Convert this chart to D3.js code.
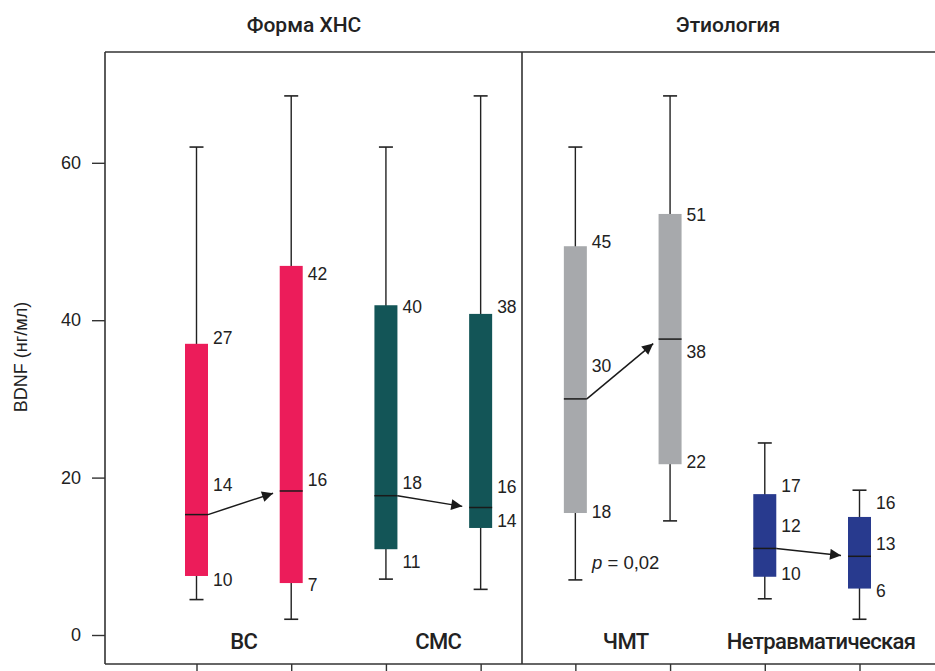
<!DOCTYPE html>
<html><head><meta charset="utf-8">
<script src="https://cdn.jsdelivr.net/npm/d3@7"></script>
<style>body{margin:0;background:#fff}svg{display:block}</style>
</head><body><svg id="c" width="935" height="671"></svg>
<script>
// ---- data ----
const panelTitles = ["Форма ХНС", "Этиология"];
const categories = ["ВС", "СМС", "ЧМТ", "Нетравматическая"];
const boxIds = ["ВС-1","ВС-2","СМС-1","СМС-2","ЧМТ-1","ЧМТ-2","Нетр-1","Нетр-2"];
const boxCategory = [0,0,1,1,2,2,3,3];
const whiskerMax = [62.0, 68.5, 62.0, 68.5, 62.0, 68.5, 24.4, 18.4];
const q3Values   = [37.0, 46.9, 41.9, 40.8, 49.4, 53.5, 17.9, 15.0];
const medians    = [15.3, 18.3, 17.7, 16.2, 30.0, 37.6, 11.0, 10.0];
const q1Values   = [ 7.5,  6.6, 10.9, 13.6, 15.5, 21.7,  7.4,  5.9];
const whiskerMin = [ 4.5,  2.0,  7.1,  5.8,  7.0, 14.5,  4.6,  2.0];
const q3Labels   = ["27","42","40","38","45","51","17","16"];
const medLabels  = ["14","16","18","16","30","38","12","13"];
const q1Labels   = ["10","7","11","14","18","22","10","6"];
const yTicks = [0, 20, 40, 60];
const pText = "= 0,02";
const colors = ["#EC1C5A", "#135557", "#A7A9AC", "#283A8E"];

// ---- layout ----
const svg = d3.select("#c");
const L = 105, T = 52, R = 935, B = 664;
const y = d3.scaleLinear().domain([0, 60]).range([635, 162.8]);
const x = d3.scalePoint().domain(boxIds).range([196.5, 859.5]);
const bw = 23, cw = 14;
const font = "'Liberation Sans', Arial, sans-serif";
// label pixel offsets (layout only)
const q3Off  = [0, 14, 8, -1, 2, 7, -2, -8];
const medOff = [-24, -5, -7, -15, -27, 19, -16, -6];
const q1Off  = [10, 8, 19, -1, 5, 4, 3, 8];
const catDx  = [0, 5, 3, 9];

svg.append("defs").append("marker").attr("id","ah")
  .attr("viewBox","0 0 10 10").attr("refX",10).attr("refY",5)
  .attr("markerWidth",15).attr("markerHeight",11).attr("markerUnits","userSpaceOnUse")
  .attr("orient","auto")
  .append("path").attr("d","M0,0 L10,5 L0,10 Z").attr("fill","#1a1a1a");

// frame
const fr = svg.append("g").attr("stroke","#333").attr("stroke-width",1.6).attr("fill","none");
fr.append("line").attr("x1",L).attr("x2",R).attr("y1",T).attr("y2",T);
fr.append("line").attr("x1",L).attr("x2",R).attr("y1",B).attr("y2",B);
fr.append("line").attr("x1",L).attr("x2",L).attr("y1",T).attr("y2",B);
fr.append("line").attr("x1",522).attr("x2",522).attr("y1",T).attr("y2",B);

// y axis
const ya = svg.append("g").attr("transform",`translate(${L},0)`)
  .call(d3.axisLeft(y).tickValues(yTicks).tickSize(13).tickPadding(11).tickFormat(d3.format("d")));
ya.select(".domain").remove();
ya.selectAll("line").attr("stroke","#333").attr("stroke-width",1.4);
ya.selectAll("text").attr("font-family",font).attr("font-size",18).attr("fill","#222");

// bottom axis ticks
const xa = svg.append("g").attr("transform",`translate(0,${B})`)
  .call(d3.axisBottom(x).tickSize(8).tickFormat(""));
xa.select(".domain").remove();
xa.selectAll("line").attr("stroke","#333").attr("stroke-width",1.4);

// y title
svg.append("text").attr("transform","translate(27,357) rotate(-90)")
  .attr("text-anchor","middle").attr("font-family",font).attr("font-size",18).attr("fill","#222")
  .text("BDNF (нг/мл)");

// panel titles
[304, 728].forEach((cx,i)=>{
  svg.append("text").attr("x",cx).attr("y",32).attr("text-anchor","middle")
    .attr("font-family","Roboto, sans-serif").attr("font-weight",500).attr("font-size",21).attr("fill","#222")
    .text(panelTitles[i]);
});

// boxes
const g = svg.append("g");
boxIds.forEach((id,i)=>{
  const cx = x(id);
  g.append("line").attr("x1",cx).attr("x2",cx).attr("y1",y(whiskerMax[i])).attr("y2",y(whiskerMin[i]))
    .attr("stroke","#222").attr("stroke-width",1.4);
  [whiskerMax[i], whiskerMin[i]].forEach(v=>{
    g.append("line").attr("x1",cx-cw/2).attr("x2",cx+cw/2).attr("y1",y(v)).attr("y2",y(v))
      .attr("stroke","#222").attr("stroke-width",1.6);
  });
  g.append("rect").attr("x",cx-bw/2).attr("width",bw)
    .attr("y",y(q3Values[i])).attr("height",y(q1Values[i])-y(q3Values[i]))
    .attr("fill",colors[boxCategory[i]]);
  g.append("line").attr("x1",cx-bw/2).attr("x2",cx+bw/2).attr("y1",y(medians[i])).attr("y2",y(medians[i]))
    .attr("stroke","#1a1a1a").attr("stroke-width",1.5);
  const lx = cx + bw/2 + 5;
  [[q3Labels[i], y(q3Values[i])+q3Off[i]], [medLabels[i], y(medians[i])+medOff[i]], [q1Labels[i], y(q1Values[i])+q1Off[i]]]
    .forEach(([t,yy])=>{
      g.append("text").attr("x",lx).attr("y",yy).attr("font-family",font).attr("font-size",17.5)
        .attr("fill","#222").text(t);
    });
});

// arrows pre -> post median
[0,2,4,6].forEach(i=>{
  const x1 = x(boxIds[i]) + bw/2, y1 = y(medians[i]);
  const x2f = x(boxIds[i+1]) - bw/2, y2f = y(medians[i+1]);
  const len = Math.hypot(x2f-x1, y2f-y1), sh = 7;
  const x2 = x2f - (x2f-x1)/len*sh, y2 = y2f - (y2f-y1)/len*sh;
  g.append("line").attr("x1",x1).attr("y1",y1).attr("x2",x2).attr("y2",y2)
    .attr("stroke","#1a1a1a").attr("stroke-width",1.5).attr("marker-end","url(#ah)");
});

// category labels
categories.forEach((c,k)=>{
  const cx = (x(boxIds[2*k]) + x(boxIds[2*k+1]))/2 + catDx[k];
  svg.append("text").attr("x",cx).attr("y",649).attr("text-anchor","middle")
    .attr("font-family","Roboto, sans-serif").attr("font-weight",500).attr("font-size",22).attr("fill","#222")
    .attr("letter-spacing",-0.6).text(c);
});

// p value
const pt = svg.append("text").attr("x",592).attr("y",569).attr("font-family",font).attr("font-size",18.5).attr("fill","#222");
pt.append("tspan").attr("font-style","italic").text("p");
pt.append("tspan").text(" " + pText);
</script></body></html>
